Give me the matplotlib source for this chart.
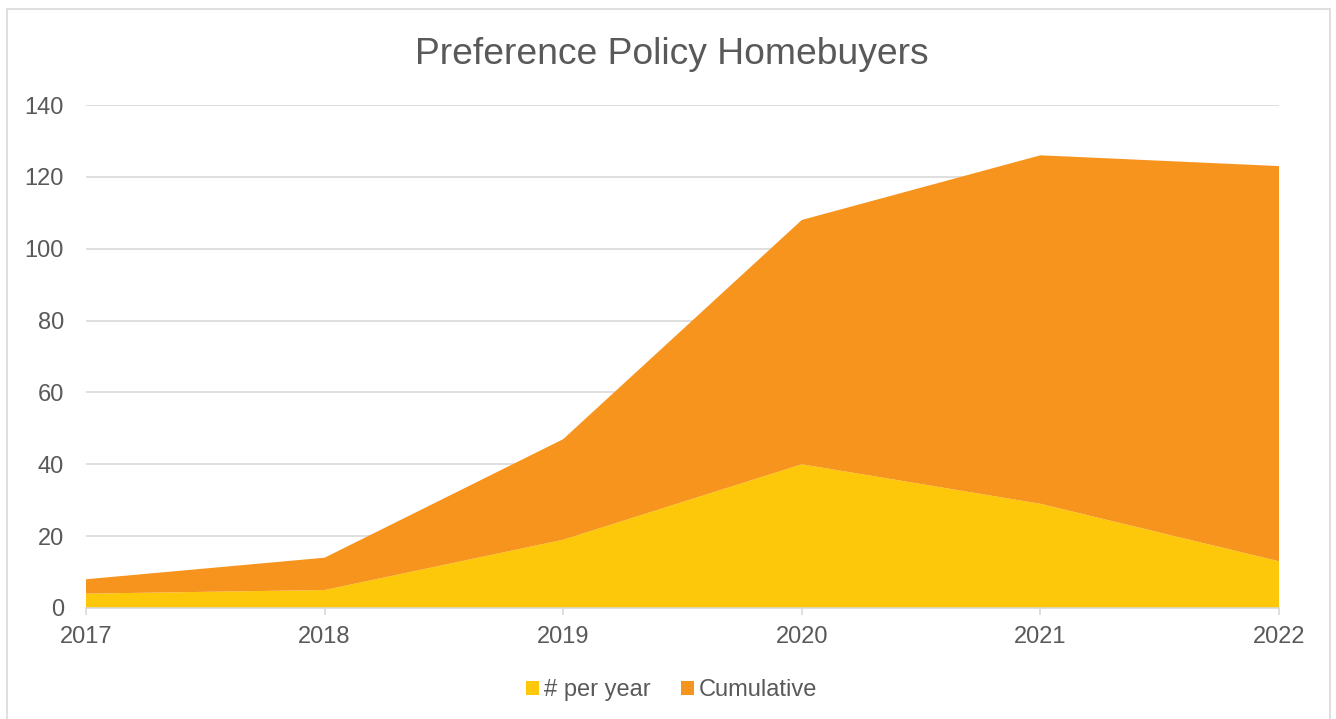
import matplotlib.pyplot as plt
from matplotlib.patches import Rectangle, Patch

plt.rcParams['font.family'] = ['Liberation Sans', 'DejaVu Sans']

# data
years = [2017, 2018, 2019, 2020, 2021, 2022]
per_year = [4, 5, 19, 40, 29, 13]
cumulative = [4, 9, 28, 68, 97, 110]

yellow = '#FDC80A'
orange = '#F7941E'
text_gray = '#595959'
grid_gray = '#D9D9D9'

fig = plt.figure(figsize=(13.36, 7.19), dpi=100)
ax = fig.add_axes([86 / 1336, 1 - 608 / 719, (1279 - 86) / 1336, (608 - 105) / 719])

# chart border like the spreadsheet chart area
fig.patches.append(Rectangle((7 / 1336, -0.05), (1330 - 7) / 1336, 1.05 - 9 / 719,
                             transform=fig.transFigure, fill=False,
                             edgecolor=grid_gray, linewidth=1.2))

ax.stackplot(years, per_year, cumulative, colors=[yellow, orange],
             labels=['# per year', 'Cumulative'], zorder=2)

ax.set_xlim(years[0], years[-1])
ax.set_ylim(0, 140)
ax.set_yticks(range(0, 141, 20))
ax.set_xticks(years)
ax.grid(axis='y', color=grid_gray, linewidth=1.2, zorder=0)
ax.set_axisbelow(True)

for side in ['top', 'right', 'left']:
    ax.spines[side].set_visible(False)
ax.spines['bottom'].set_color(grid_gray)
ax.spines['bottom'].set_linewidth(1.2)
ax.spines['bottom'].set_zorder(3)

ax.tick_params(axis='y', length=0, pad=16, labelsize=17, labelcolor=text_gray)
ax.tick_params(axis='x', length=5, color=grid_gray, width=1.2, pad=8,
               labelsize=17, labelcolor=text_gray)

fig.text(0.503, 1 - 55 / 719, 'Preference Policy Homebuyers', ha='center', va='center',
         fontsize=26.8, color=text_gray)

handles = [Patch(facecolor=yellow, label='# per year'),
           Patch(facecolor=orange, label='Cumulative')]
fig.legend(handles=handles, loc='center', bbox_to_anchor=(0.503, 1 - 690 / 719),
           ncol=2, frameon=False, fontsize=17, labelcolor=text_gray,
           handlelength=0.55, handleheight=0.55, handletextpad=0.2, columnspacing=1.3)

fig.savefig('out.png', dpi=100)
